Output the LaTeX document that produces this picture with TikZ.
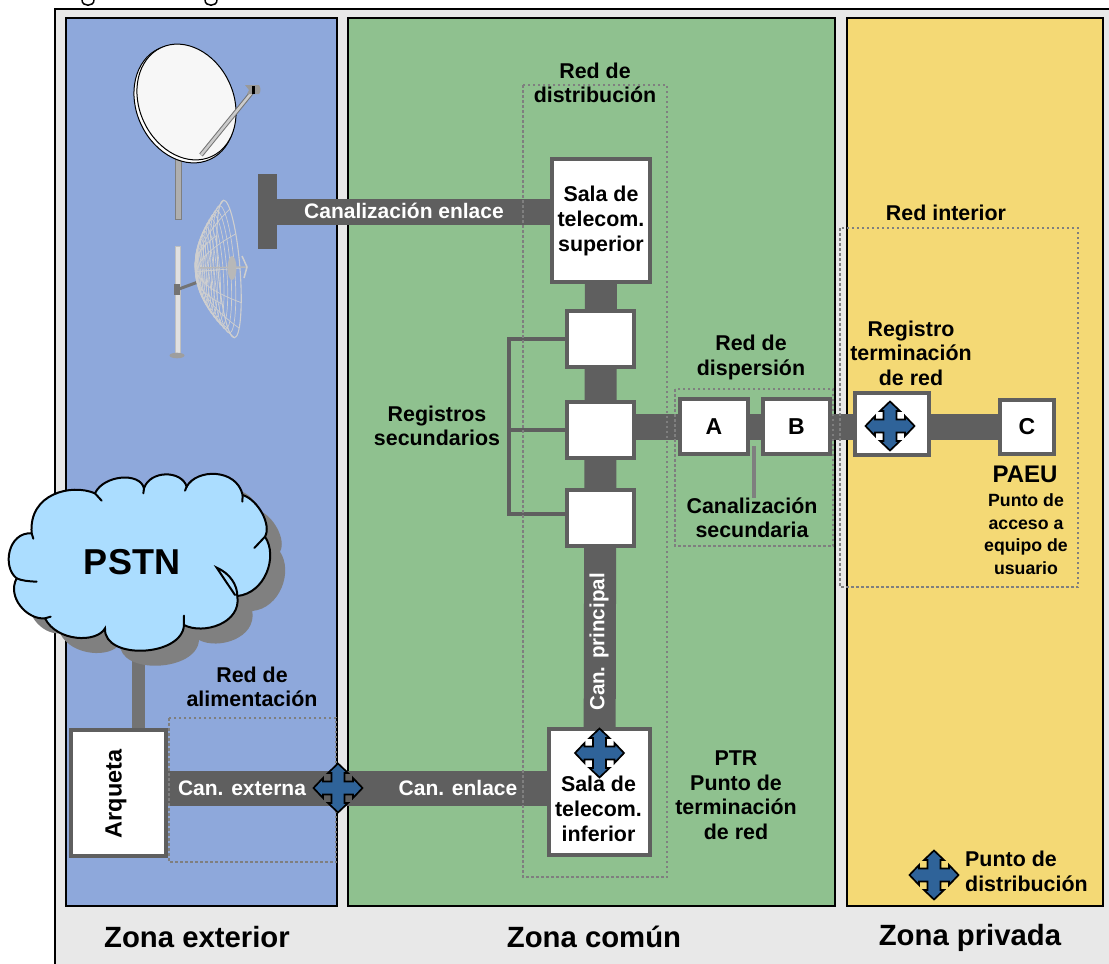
\documentclass[tikz,border=0pt]{standalone}
\usepackage{fontspec}
\setmainfont{Liberation Sans}
\pgfdeclarelayer{zones}
\pgfdeclarelayer{conn}
\pgfdeclarelayer{dots}
\pgfsetlayers{zones,conn,dots,main}
\definecolor{framegray}{HTML}{E8E8E8}
\definecolor{zoneblue}{HTML}{8EA8DB}
\definecolor{zonegreen}{HTML}{8FC18F}
\definecolor{zoneyellow}{HTML}{F4D975}
\definecolor{bandgray}{HTML}{5F5F5F}
\definecolor{dotgray}{HTML}{7F7F7F}
\definecolor{crossblue}{HTML}{2F6399}
\definecolor{cloudblue}{HTML}{ABDDFF}
\definecolor{wiregray}{HTML}{CFCFCF}
\tikzset{
 zonebox/.style={draw=black,line width=2pt},
 sbox/.style={draw=bandgray,line width=4pt,fill=white,inner sep=0pt,outer sep=0pt,align=center,font=\fontsize{21.4}{25}\selectfont\bfseries},
 letterbox/.style={sbox,font=\fontsize{23}{25}\selectfont\bfseries},
 band/.style={draw=bandgray,line width=#1},
 dotbox/.style={draw=dotgray,line width=2.4pt,dash pattern=on 2.5pt off 2.5pt},
 lbl/.style={inner sep=0pt,align=center,font=\fontsize{21.4}{24.5}\selectfont\bfseries},
 wlbl/.style={lbl,text=white,font=\fontsize{21}{24.5}\selectfont\bfseries},
 zlbl/.style={inner sep=0pt,font=\fontsize{29.3}{32}\selectfont\bfseries},
 crossmark/.pic={\draw[fill=crossblue,line width=1.7pt,miter limit=4]
   (24.5,0) -- (15,-10) -- (15,-6.5) -- (6.5,-6.5) -- (6.5,-15) -- (10,-15) -- (0,-24.5) -- (-10,-15) -- (-6.5,-15) -- (-6.5,-6.5) -- (-15,-6.5) -- (-15,-10) -- (-24.5,0) -- (-15,10) -- (-15,6.5) -- (-6.5,6.5) -- (-6.5,15) -- (-10,15) -- (0,24.5) -- (10,15) -- (6.5,15) -- (6.5,6.5) -- (15,6.5) -- (15,10) -- cycle;},
}
\def\cloudpath{(285,100)
 .. controls (310,45) and (420,35) .. (432,85)
 .. controls (450,30) and (545,30) .. (560,80)
 .. controls (590,25) and (710,25) .. (728,105)
 .. controls (775,120) and (815,195) .. (795,230)
 .. controls (835,290) and (795,400) .. (712,408)
 .. controls (725,490) and (610,525) .. (552,495)
 .. controls (547,591) and (310,601) .. (315,505)
 .. controls (290,550) and (170,545) .. (135,475)
 .. controls (80,480) and (20,410) .. (50,355)
 .. controls (5,320) and (25,215) .. (95,220)
 .. controls (85,100) and (215,70) .. (285,100) -- cycle}
\begin{document}
\begin{tikzpicture}[x=1pt,y=-1pt]
\useasboundingbox (0,0) rectangle (1109,964);
\begin{pgfonlayer}{zones}
\fill[white] (0,0) rectangle (1109,964);
\fill[framegray] (55,9) rectangle (1109,964);
\draw[black,line width=2.2pt] (1109,9) -- (55,9) -- (55,964);
\draw[zonebox,fill=zoneblue] (66,18) rectangle (337,906);
\draw[zonebox,fill=zonegreen] (348,18) rectangle (835,906);
\draw[zonebox,fill=zoneyellow] (847,18) rectangle (1103,906);
\draw[line width=1.5pt] (82,0) .. controls (82,7) and (94,7) .. (94,0);
\draw[line width=1.5pt] (205,0) .. controls (205,7) and (217,7) .. (217,0);
\end{pgfonlayer}

% satellite dish
\fill[bandgray!50!white,draw=dotgray,line width=1pt] (175,158) rectangle (181,219);
\draw[black,line width=1pt,fill=white] (184.5,104) ellipse[x radius=48pt,y radius=61pt,rotate=25];
\draw[black,line width=1pt,fill=black!3] (186.5,102) ellipse[x radius=47pt,y radius=60pt,rotate=25];
\draw[line width=4.5pt,draw=gray!90!black,line cap=butt] (201,155) -- (253,91);
\draw[line width=2.5pt,draw=gray!40!white] (201,155) -- (253,91);
\fill[gray!80!white] (245,85) -- (259,85) .. controls (261,88) and (261,92) .. (259,94) -- (247,94) -- (249,90) -- cycle;
\fill[black] (251.5,86) rectangle (255,94);

% grid antenna
\fill[black!12,draw=black!25,line width=.6pt] (175,246) rectangle (180,355);
\fill[black!38] (177,355.5) ellipse[x radius=7.5pt,y radius=2.8pt];
\draw[line width=3pt,draw=black!55] (179,289) -- (198,282);
\fill[black!55] (174,284) rectangle (179.5,294.5);
\begin{scope}[rotate around={4.5:(229,269)},wiregray,line width=.7pt]
\foreach \r in {8,12,...,66}{
  \draw ({229-33*(1-(\r/69)*(\r/69))},269) ellipse[x radius={0.16*\r*1pt},y radius={\r*1pt}];
}
\draw[line width=1.1pt] (229,269) ellipse[x radius=11pt,y radius=69pt];
\foreach \a in {0,30,60,120,150,180,210,240,300,330}{
  \draw[line width=.7pt,domain=0:69,samples=16,smooth,variable=\t] plot ({229-33*(1-(\t/69)*(\t/69))+0.16*\t*cos(\a)},{269+\t*sin(\a)});
}
\draw[line width=1pt,domain=-69:69,samples=24,smooth,variable=\t] plot ({229-33*(1-(\t/69)*(\t/69))},{269+\t});
\end{scope}
\fill[black!28] (232,268) ellipse[x radius=4.5pt,y radius=12pt];
\draw[black!28,line width=1.5pt] (200,268) -- (246,267);
\draw[wiregray,line width=1.5pt] (242,256) -- (247,267) -- (244,278);

% cloud
\begin{scope}[shift={(15,475)},scale=1/3]
\fill[gray] \cloudpath;
\end{scope}
\begin{scope}[shift={(0,460)},scale=1/3]
\draw[fill=cloudblue,line width=2pt] \cloudpath;
\draw[line width=2pt,line cap=round]
  (285,100) -- (305,122) (432,85) -- (430,100) (560,80) -- (555,92) (728,105) -- (727,125)
  (795,230) -- (763,264) (552,495) -- (552,467) (135,475) -- (152,470) (50,355) .. controls (65,362) and (85,364) .. (110,365)
  (95,220) -- (100,236) (712,408) .. controls (712,375) and (690,340) .. (650,323) -- (705,405);
\end{scope}
\node[inner sep=0pt,font=\fontsize{36}{40}\selectfont\bfseries] (pstn) at (132,562) {PSTN};

% boxes
\node[sbox,minimum width=98pt,minimum height=123pt] (salasup) at (601,220.5) {Sala de\\telecom.\\superior};
\node[sbox,minimum width=67pt,minimum height=56pt] (sec1) at (600.5,339) {};
\node[sbox,minimum width=67pt,minimum height=56pt] (sec2) at (600.5,430) {};
\node[sbox,minimum width=67pt,minimum height=56pt] (sec3) at (600.5,518) {};
\node[letterbox,minimum width=68pt,minimum height=55pt] (boxA) at (714,426.5) {A};
\node[letterbox,minimum width=67pt,minimum height=55pt] (boxB) at (796.5,426.5) {B};
\node[sbox,minimum width=74pt,minimum height=62pt] (regt) at (892,424) {};
\node[letterbox,minimum width=54pt,minimum height=54pt] (boxC) at (1027,427) {C};
\node[sbox,minimum width=95pt,minimum height=126pt] (arq) at (118.5,793) {};
\node[font=\fontsize{23.5}{26}\selectfont\bfseries,inner sep=0pt,rotate=90] (arqt) at (116,794) {Arqueta};
\node[sbox,minimum width=101pt,minimum height=126pt] (salainf) at (599.5,792) {};
\node[lbl,font=\fontsize{21.4}{25}\selectfont\bfseries] (salainft) at (598.5,809) {Sala de\\telecom.\\inferior};

\coordinate (tbar) at (267.5,211.5);
\coordinate (xext) at (338,788);
\coordinate (xptr) at (599.5,753);
\coordinate (xreg) at (890,426);
\coordinate (xleg) at (934,875);
\coordinate (cbase) at (138.5,640);
\coordinate (secl) at (754,446);
\coordinate (br3) at (509,514);

\pic at (xext) {crossmark};
\pic at (xptr) {crossmark};
\pic at (xreg) {crossmark};
\pic at (xleg) {crossmark};

% labels
\node[lbl] (lreddist) at (595,83) {Red de\\distribución};
\node[wlbl] (lcanenl) at (404,211) {Canalización enlace};
\node[lbl] (lredint) at (946,213) {Red interior};
\node[lbl] (lregt) at (911,353) {Registro\\terminación\\de red};
\node[lbl] (lreddisp) at (751,357.5) {Red de\\dispersión};
\node[lbl] (lregsec) at (437,426) {Registros\\secundarios};
\node[lbl] (lcansec) at (752,518) {Canalización\\secundaria};
\node[inner sep=0pt,font=\fontsize{24}{26}\selectfont\bfseries] (lpaeu) at (1025,474) {PAEU};
\node[lbl,font=\fontsize{17.7}{22.5}\selectfont\bfseries] (lpaeud) at (1026,534) {Punto de\\acceso a\\equipo de\\usuario};
\node[wlbl,rotate=90,font=\fontsize{20.5}{24}\selectfont\bfseries] (lcanp) at (599,642) {Can. principal};
\node[lbl] (lredal) at (252,687) {Red de\\alimentación};
\node[lbl] (lptr) at (736,795) {PTR\\Punto de\\terminación\\de red};
\node[lbl,align=left,anchor=west] (lleg) at (965,871.5) {Punto de\\distribución};
\node[wlbl] (lcanext) at (242,788) {Can. externa};
\node[wlbl] (lcanen2) at (458,788) {Can. enlace};
\node[zlbl] (zext) at (197,937) {Zona exterior};
\node[zlbl] (zcom) at (594,937) {Zona común};
\node[zlbl] (zpri) at (970,938) {Zona privada};

\begin{pgfonlayer}{conn}
\fill[bandgray] (258,174) rectangle (277,249);
\draw[band=26pt] (tbar) -- (salasup.west |- tbar);
\draw[band=32pt] (salasup) -- (salainf);
\draw[band=26pt] (sec2.east |- boxA) -- (boxC.west |- boxA);
\draw[band=35pt] (arq.east |- xext) -- (salainf.west |- xext);
\draw[draw=black!55,line width=13pt] (cbase) -- (cbase |- arq.north);
\draw[draw=dotgray,line width=4pt] (secl) -- (lcansec.north -| secl);
\draw[draw=bandgray,line width=3.5pt,line join=miter] (sec1.west) -| (br3) -- (sec3.west |- br3);
\draw[draw=bandgray,line width=3.5pt] (sec2.west) -- (br3 |- sec2);
\end{pgfonlayer}
\begin{pgfonlayer}{dots}
\draw[dotbox] (523,85) rectangle (667,877);
\draw[dotbox] (675,389) rectangle (833,546);
\draw[dotbox] (840,228) rectangle (1078,587);
\draw[dotbox] (169,718) rectangle (336,862);
\end{pgfonlayer}
\end{tikzpicture}
\end{document}
